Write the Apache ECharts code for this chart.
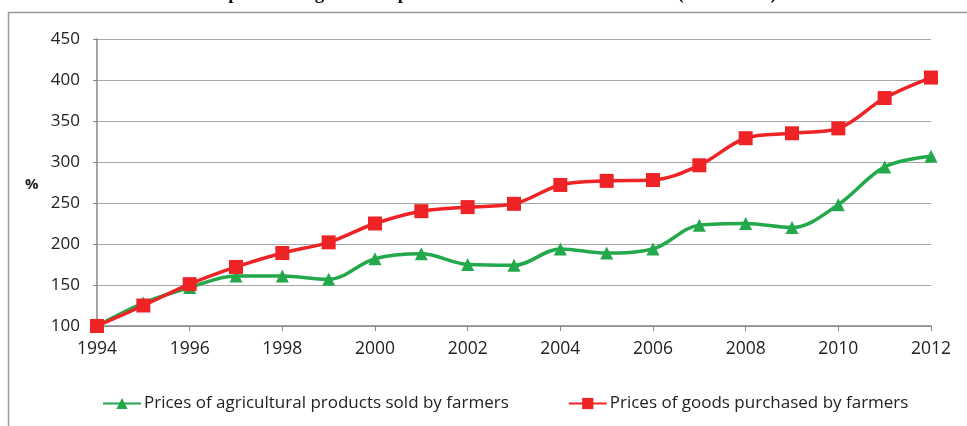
<!DOCTYPE html>
<html>
<head>
<meta charset="utf-8">
<script src="https://cdn.jsdelivr.net/npm/echarts@6/dist/echarts.min.js"></script>
<style>
  html, body { margin: 0; padding: 0; background: #fff; }
  #chart { width: 967px; height: 426px; }
</style>
</head>
<body>
<div id="chart"></div>
<script>
var years = [1994, 1995, 1996, 1997, 1998, 1999, 2000, 2001, 2002, 2003, 2004, 2005, 2006, 2007, 2008, 2009, 2010, 2011, 2012];
var soldName = 'Prices of agricultural products sold by farmers';
var boughtName = 'Prices of goods purchased by farmers';
var soldValues = [100, 128, 147, 161, 161, 157, 182, 188, 175, 174, 194, 189, 194, 223, 225, 220, 248, 294, 307];
var boughtValues = [100, 125, 151, 172, 189, 202, 225, 240, 245, 249, 272, 277, 278, 296, 329, 335, 341, 378, 403];
var yTicks = { min: 100, max: 450, step: 50 };
var xTicks = { min: 1994, max: 2012, step: 2 };
var titleText = 'Comparison of growth of prices for farmers\u2019 sales and costs (1994 = 100)';

function pairs(vals) {
  return years.map(function (y, i) { return [y, vals[i]]; });
}

var chart = echarts.init(document.getElementById('chart'));
var font = '"Open Sans", Lato, sans-serif';

chart.setOption({
  animation: false,
  graphic: [
    {
      type: 'rect',
      shape: { x: 8.5, y: 12.5, width: 1000, height: 500 },
      style: { fill: 'none', stroke: '#9a9a9a', lineWidth: 1.5 },
      silent: true
    },
    {
      type: 'text',
      x: 483, y: 4,
      style: {
        text: titleText,
        font: 'bold 19px "Liberation Serif", serif',
        fill: '#111',
        align: 'center',
        verticalAlign: 'bottom'
      }
    },
    {
      type: 'text',
      left: 25, top: 177,
      style: { text: '%', font: 'bold 15px ' + font, fill: '#222' }
    }
  ],
  grid: { left: 97, right: 36, top: 39, bottom: 100 },
  legend: {
    top: 390,
    left: 97,
    itemGap: 59,
    itemWidth: 38,
    itemHeight: 14,
    textStyle: { fontFamily: font, fontSize: 17, color: '#222', padding: [0, 0, 0, -2] },
    data: [soldName, boughtName]
  },
  xAxis: {
    type: 'value',
    min: xTicks.min, max: xTicks.max, interval: xTicks.step,
    axisLine: { lineStyle: { color: '#868686', width: 1.5 } },
    axisTick: { show: true, length: 5, lineStyle: { color: '#868686' } },
    axisLabel: { color: '#222', fontSize: 17.5, fontFamily: font, margin: 14, formatter: function (v) { return String(v); } },
    splitLine: { show: false }
  },
  yAxis: {
    type: 'value',
    min: yTicks.min, max: yTicks.max, interval: yTicks.step,
    axisLine: { show: true, lineStyle: { color: '#868686', width: 1.5 } },
    axisTick: { show: true, length: 4, lineStyle: { color: '#868686' } },
    axisLabel: { color: '#222', fontSize: 17, fontFamily: font, margin: 17 },
    splitLine: { lineStyle: { color: '#a6a6a6', width: 1.2 } }
  },
  series: [
    {
      name: soldName,
      type: 'line',
      smooth: 0.35,
      data: pairs(soldValues),
      symbol: 'triangle',
      symbolSize: 13,
      itemStyle: { color: '#23a84b' },
      lineStyle: { color: '#23a84b', width: 3.5 }
    },
    {
      name: boughtName,
      type: 'line',
      smooth: 0.35,
      data: pairs(boughtValues),
      symbol: 'rect',
      symbolSize: 14,
      itemStyle: { color: '#ee2326' },
      lineStyle: { color: '#ee2326', width: 3.5 }
    }
  ]
});
</script>
</body>
</html>
